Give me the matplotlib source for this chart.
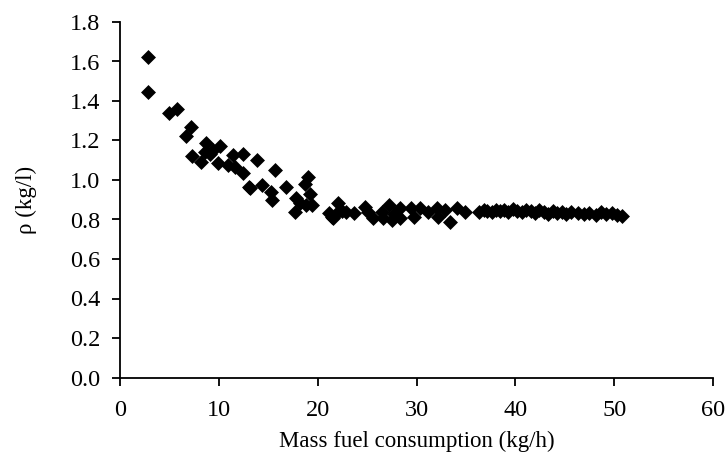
import matplotlib
matplotlib.use("Agg")
import matplotlib.pyplot as plt

fuel_consumption = [
    2.83, 2.85, 4.99, 5.73, 6.65, 7.15, 7.32, 8.17, 8.60, 8.70, 9.11, 9.45, 9.95, 10.12,
    10.96, 11.47, 11.64, 12.42, 12.42, 13.06, 13.16, 13.83, 14.34, 15.25, 15.35, 15.69,
    16.80, 17.71, 17.81, 18.22, 18.72, 18.83, 19.00, 19.23, 19.40,
    21.15, 21.42, 21.59, 21.93, 22.03, 22.43, 22.87, 23.68,
    24.8, 25.1, 25.6, 26.5, 26.6, 27.2, 27.5, 27.7, 28.3, 28.3, 29.4, 29.7, 30.4, 31.2,
    32.1, 32.2, 32.9, 33.4, 34.1, 34.9,
    36.3, 36.8, 37.1, 37.6, 38.0, 38.4, 38.9, 39.3, 39.8, 40.2, 40.7, 41.1, 41.6, 42.0,
    42.4, 42.9, 43.3, 43.8, 44.2, 44.7, 45.1, 45.6, 46.3, 46.9, 47.5, 48.2, 48.7, 49.2,
    49.8, 50.3, 50.8,
]
density = [
    1.623, 1.444, 1.338, 1.358, 1.224, 1.270, 1.121, 1.090, 1.140, 1.186, 1.130, 1.152,
    1.085, 1.172, 1.076, 1.127, 1.067, 1.130, 1.037, 0.966, 0.958, 1.101, 0.975, 0.941,
    0.899, 1.051, 0.966, 0.839, 0.907, 0.882, 0.980, 0.873, 1.017, 0.929, 0.873,
    0.831, 0.814, 0.809, 0.831, 0.882, 0.845, 0.839, 0.831,
    0.862, 0.840, 0.806, 0.840, 0.806, 0.873, 0.797, 0.830, 0.810, 0.857, 0.860, 0.814,
    0.857, 0.840, 0.857, 0.814, 0.848, 0.789, 0.857, 0.840,
    0.840, 0.850, 0.845, 0.840, 0.850, 0.845, 0.850, 0.840, 0.855, 0.845, 0.840, 0.850,
    0.845, 0.835, 0.850, 0.840, 0.830, 0.845, 0.835, 0.840, 0.830, 0.840, 0.835, 0.830,
    0.835, 0.825, 0.840, 0.830, 0.835, 0.825, 0.820,
]
x_ticks = [0, 10, 20, 30, 40, 50, 60]
y_ticks = [0.0, 0.2, 0.4, 0.6, 0.8, 1.0, 1.2, 1.4, 1.6, 1.8]

plt.rcParams['font.family'] = ['Liberation Serif', 'DejaVu Serif']

fig = plt.figure(figsize=(7.26, 4.61), dpi=100)
ax = fig.add_axes([120/726, 1-377.5/461, (713-120)/726, (377.5-22)/461])

ax.scatter(fuel_consumption, density, marker='D', s=58, color='black', linewidths=0, zorder=3)

ax.set_xlim(0, 60)
ax.set_ylim(0, 1.8)
ax.set_xticks(x_ticks)
ax.set_yticks(y_ticks)
ax.set_xticklabels([str(t) for t in x_ticks])
ax.set_yticklabels([f"{t:.1f}" for t in y_ticks])
for side in ['top', 'right']:
    ax.spines[side].set_visible(False)
for side in ['left', 'bottom']:
    ax.spines[side].set_linewidth(1.3)
    ax.spines[side].set_color('black')
ax.tick_params(axis='both', direction='out', length=6, width=1.3, labelsize=17.5, colors='black')
ax.tick_params(axis='x', pad=10)
ax.tick_params(axis='y', pad=8)
ax.set_xlabel('Mass fuel consumption (kg/h)', fontsize=16.5, labelpad=7)
ax.set_ylabel('ρ (kg/l)', fontsize=16.5, labelpad=24)

fig.savefig('out.png', dpi=100)
